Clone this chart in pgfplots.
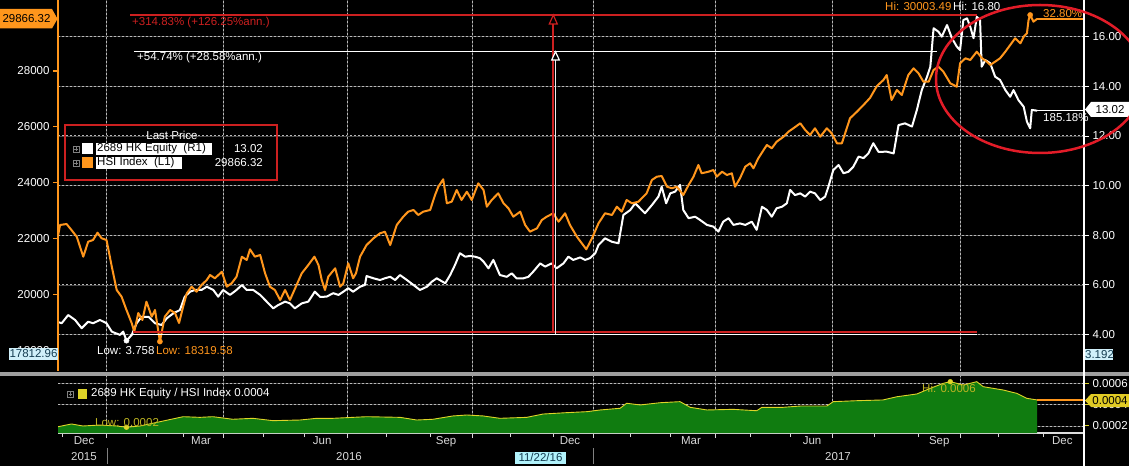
\documentclass[border=0pt]{standalone}
\usepackage{pgfplots}
\usepackage{pgfplotstable}
\pgfplotsset{compat=1.18}
\usepackage{fontspec}
\setmainfont{Liberation Sans}
\definecolor{bbor}{RGB}{255,150,28}
\definecolor{bbred}{RGB}{205,32,32}
\definecolor{ellred}{RGB}{226,28,40}
\definecolor{gridc}{RGB}{185,185,185}
\definecolor{griddim}{RGB}{72,72,72}
\definecolor{bbgreen}{RGB}{16,124,16}
\definecolor{bbyel}{RGB}{222,212,40}
\definecolor{lcyan}{RGB}{208,240,250}
\definecolor{dteal}{RGB}{20,60,80}
\definecolor{lgray}{RGB}{215,215,215}
\newcommand{\fs}{\fontsize{11.5}{13}\selectfont}
\tikzset{gls/.style={draw=griddim, line width=0.9pt},
         gl/.style={draw=gridc, line width=1pt, dash pattern=on 2pt off 2pt}}

% HSI Index (left axis); x = months since 1 Dec 2015
\pgfplotstableread{
m v
-0.17 22096
-0.12 22490
0.04 22526
0.16 22311
0.29 22071
0.45 21356
0.57 21892
0.69 21953
0.80 22214
0.90 22014
1.02 21953
1.15 20998
1.27 20164
1.39 19924
1.51 19449
1.64 18973
1.70 18672
1.80 19341
1.90 19091
2.00 19746
2.13 19209
2.21 19449
2.33 18320
2.45 19209
2.58 19449
2.70 19341
2.80 18983
2.90 19567
2.99 20046
3.11 20282
3.23 20103
3.35 20343
3.48 20522
3.56 20701
3.68 20583
3.85 20819
3.97 20282
4.09 20404
4.21 20640
4.34 21356
4.46 21238
4.54 21620
4.66 21356
4.79 21416
4.91 20762
5.03 20282
5.15 20164
5.28 19806
5.40 20164
5.52 19806
5.64 20200
5.81 20762
5.97 21059
6.12 21356
6.22 21059
6.30 20522
6.38 20164
6.46 20640
6.63 20941
6.75 20282
6.83 20404
6.95 21120
7.07 20583
7.14 20762
7.24 21356
7.40 21774
7.57 22014
7.73 22193
7.85 22250
7.98 21774
8.14 22490
8.30 22787
8.42 22966
8.55 23027
8.67 22848
8.79 22966
8.96 23027
9.08 23563
9.16 23860
9.28 24125
9.37 23266
9.49 23324
9.61 23742
9.73 23384
9.86 23681
9.98 23384
10.14 23982
10.27 23742
10.35 23145
10.47 23384
10.63 23624
10.76 23266
10.88 23087
11.00 22787
11.17 22966
11.29 22490
11.41 22250
11.58 22372
11.70 22669
11.82 22787
11.98 22909
12.11 22608
12.27 22909
12.39 22490
12.56 22071
12.68 21835
12.79 21620
12.93 22014
13.09 22551
13.25 22909
13.42 22848
13.54 23145
13.66 22966
13.78 23384
13.91 23266
14.07 23324
14.27 23624
14.40 24100
14.52 24218
14.64 24243
14.77 23860
14.89 23803
15.01 23860
15.17 23563
15.30 23921
15.42 24218
15.54 24637
15.62 24340
15.79 24397
15.91 24458
15.99 24218
16.12 24397
16.24 24279
16.36 24340
16.44 23860
16.56 24161
16.69 24576
16.81 24697
16.89 24519
17.01 24876
17.14 25173
17.22 25352
17.34 25234
17.46 25470
17.63 25649
17.75 25828
17.87 25950
18.04 26129
18.16 25889
18.28 25710
18.40 25950
18.53 25649
18.69 25950
18.81 25771
18.94 25413
19.06 25413
19.18 25950
19.26 26308
19.43 26544
19.59 26783
19.75 27034
19.92 27463
20.08 27678
20.16 27857
20.28 26962
20.41 27320
20.53 27141
20.69 27857
20.82 28097
20.94 27918
21.06 27617
21.19 27617
21.31 28036
21.43 28154
21.55 27975
21.72 27560
21.88 27438
21.96 28276
22.09 28454
22.21 28394
22.37 28691
22.50 28454
22.62 28333
22.70 28215
22.82 28333
22.94 28454
23.07 28691
23.19 28930
23.31 29170
23.44 28991
23.52 29227
23.60 29349
23.64 29825
23.68 30003.49
23.76 29764
23.85 29866.32
}\hsidata

% 2689 HK Equity (right axis)
\pgfplotstableread{
m v
-0.17 4.51
-0.08 4.46
0.08 4.79
0.25 4.59
0.41 4.26
0.57 4.52
0.69 4.46
0.86 4.59
1.02 4.46
1.15 4.12
1.35 3.99
1.43 4.12
1.51 3.758
1.64 3.99
1.76 4.46
1.88 4.72
2.05 4.72
2.21 4.46
2.37 4.39
2.50 4.66
2.66 4.86
2.82 4.99
2.94 5.53
3.07 5.73
3.19 5.80
3.35 5.80
3.48 5.93
3.64 5.80
3.76 5.53
3.88 5.80
4.05 5.60
4.21 5.80
4.34 6.00
4.46 5.80
4.62 5.80
4.79 5.60
4.95 5.33
5.11 5.06
5.23 5.19
5.40 5.33
5.52 5.26
5.64 5.06
5.81 5.26
5.97 5.33
6.13 5.73
6.26 5.52
6.42 5.53
6.58 5.67
6.71 5.60
6.83 5.73
6.95 5.87
7.07 5.73
7.24 5.93
7.36 6.00
7.40 6.36
7.57 6.27
7.73 6.20
7.85 6.27
7.98 6.33
8.10 6.20
8.22 6.40
8.39 6.20
8.55 6.00
8.71 5.80
8.88 5.93
9.00 6.13
9.12 6.27
9.33 6.07
9.45 6.40
9.57 6.81
9.69 7.28
9.82 7.14
9.94 7.17
10.06 7.14
10.18 7.08
10.27 6.94
10.39 6.67
10.51 7.01
10.67 6.40
10.84 6.33
10.96 6.47
11.08 6.27
11.25 6.27
11.37 6.33
11.49 6.54
11.66 6.87
11.78 6.74
11.94 6.87
12.06 6.67
12.23 6.87
12.35 7.14
12.47 7.01
12.64 7.11
12.76 7.01
12.88 7.08
13.01 7.28
13.09 7.61
13.25 7.88
13.42 7.74
13.58 7.68
13.70 8.82
13.87 9.02
13.99 9.29
14.11 9.09
14.23 8.89
14.40 9.22
14.56 9.56
14.64 9.96
14.75 9.29
14.85 9.69
14.97 9.76
15.09 10.03
15.17 9.02
15.30 8.69
15.46 8.75
15.58 8.62
15.75 8.42
15.91 8.35
16.03 8.15
16.15 8.55
16.28 8.69
16.40 8.42
16.56 8.48
16.69 8.42
16.85 8.55
16.97 8.22
17.10 9.15
17.22 9.02
17.34 8.75
17.46 9.09
17.59 9.15
17.71 9.29
17.79 9.83
17.91 9.62
18.04 9.69
18.16 9.56
18.28 9.76
18.40 9.69
18.53 9.42
18.65 9.56
18.73 9.96
18.85 10.63
18.98 10.83
19.10 10.50
19.22 10.56
19.34 10.76
19.47 11.17
19.59 11.11
19.71 11.30
19.83 11.71
19.96 11.36
20.16 11.37
20.33 11.30
20.45 12.44
20.61 12.51
20.78 12.38
20.90 13.05
21.02 13.85
21.15 14.39
21.23 14.79
21.31 16.34
21.43 16.20
21.51 16.00
21.64 16.47
21.76 15.94
21.88 15.60
21.96 15.46
22.04 16.67
22.13 16.74
22.21 16.40
22.29 15.94
22.37 16.80
22.45 16.67
22.49 14.79
22.58 15.06
22.70 14.93
22.82 14.39
22.94 14.26
23.07 13.85
23.19 13.58
23.27 13.85
23.39 13.45
23.52 13.18
23.60 12.58
23.68 12.31
23.72 13.05
23.85 13.02
}\eqdata

% 2689 HK Equity / HSI Index
\pgfplotstableread{
m v
-0.17 0.000193
0.16 0.000219
0.44 0.000200
0.86 0.000209
1.27 0.000200
1.51 0.000188
1.84 0.000200
2.33 0.000240
2.90 0.000287
3.31 0.000281
3.63 0.000287
4.12 0.000263
4.61 0.000272
5.10 0.000250
5.77 0.000256
6.18 0.000272
6.58 0.000272
7.40 0.000287
8.22 0.000281
8.63 0.000256
9.03 0.000263
9.52 0.000294
9.86 0.000303
10.26 0.000294
10.67 0.000272
11.33 0.000281
11.73 0.000312
12.31 0.000325
12.80 0.000334
13.13 0.000350
13.62 0.000366
13.78 0.000413
14.11 0.000397
14.60 0.000418
15.09 0.000428
15.34 0.000375
15.75 0.000350
16.39 0.000356
16.97 0.000343
17.10 0.000375
17.62 0.000375
18.04 0.000387
18.69 0.000387
18.85 0.000428
19.43 0.000437
20.07 0.000444
20.41 0.000474
20.90 0.000500
21.23 0.000553
21.55 0.000600
21.72 0.000615
22.04 0.000584
22.37 0.000615
22.53 0.000568
23.02 0.000537
23.35 0.000506
23.60 0.000459
23.85 0.000444
}\ratiodata

\pgfplotsset{
  bbbase/.style={
    scale only axis,
    xmin=-0.17, xmax=25.0,
    tick label style={font=\fs},
    /pgf/number format/assume math mode=true,
    tick align=outside,
    major tick length=5pt, minor tick length=4pt,
  }
}

\begin{document}
\begin{tikzpicture}
\fill[black] (0pt,0pt) rectangle (1129pt,466pt);
\useasboundingbox (0pt,0pt) rectangle (1129pt,466pt);

% panel separator
\fill[gray!75] (0pt,90pt) rectangle (1129pt,94pt);

% grid lines (dim solid base, brighter dashes on top), in picture points
\begin{scope}[x=1pt,y=1pt]
\foreach \yy in {131.35,181.0,230.7,280.3,330.0,379.7,429.3,40.0,61.4,82.7}
  {\draw[gls] (58,\yy) -- (1084,\yy); \draw[gl] (58,\yy) -- (1084,\yy);}
\foreach \xx in {106.9,223.1,347.0,472.2,593.2,715.1,832.1,960.1}
  {\draw[gls] (\xx,95) -- (\xx,466); \draw[gl] (\xx,95) -- (\xx,466);
   \draw[gls] (\xx,33) -- (\xx,90); \draw[gl] (\xx,33) -- (\xx,90);}
\end{scope}

% ---------- main panel, right axis: 2689 HK Equity ----------
\begin{axis}[bbbase, at={(58pt,95pt)}, anchor=south west, width=1026pt, height=371pt,
  ymin=2.536, ymax=17.478,
  axis y line*=right, axis x line*=bottom,
  x axis line style={draw=none}, y axis line style={white, line width=1.2pt},
  xtick=\empty,
  ytick={4,6,8,10,12,14,16}, ytick style={white, line width=1pt},
  yticklabel style={text=white, /pgf/number format/.cd, fixed, fixed zerofill, precision=2},
  clip=false]
\addplot[white, line width=2pt, line join=round] table[x=m,y=v]{\eqdata};
\addplot[white, line width=1.5pt] coordinates {(23.85,13.02) (25.0,13.02)};
\addplot[only marks, mark=*, mark size=2.6pt, white] coordinates {(1.51,3.758)};
\end{axis}

% ---------- main panel, left axis: HSI Index ----------
\begin{axis}[bbbase, at={(58pt,95pt)}, anchor=south west, width=1026pt, height=371pt,
  ymin=17266, ymax=30540,
  axis y line*=left, axis x line*=bottom,
  x axis line style={draw=none}, xtick=\empty,
  y axis line style={bbor, line width=1.5pt},
  ytick={18000,20000,22000,24000,26000,28000}, ytick style={bbor, line width=1.2pt},
  yticklabel style={text=white},
  scaled y ticks=false, /pgf/number format/1000 sep={},
  clip=false]
\addplot[bbor, line width=2pt, line join=round] table[x=m,y=v]{\hsidata};
\addplot[bbor, line width=1.5pt] coordinates {(23.85,29866.32) (25.0,29866.32)};
\addplot[only marks, mark=*, mark size=2.6pt, bbor] coordinates {(2.33,18319.58) (23.68,30003.49)};
\end{axis}

% ---------- lower panel: ratio ----------
\begin{axis}[bbbase, at={(58pt,33pt)}, anchor=south west, width=1026pt, height=57pt,
  ymin=0.0001343, ymax=0.0006684,
  axis y line*=right, axis x line*=bottom,
  x axis line style={lgray!85, line width=1.2pt}, y axis line style={white, line width=1.2pt},
  xtick={1.03,3.88,6.92,9.99,12.96,15.95,18.82,21.96},
  minor xtick={-0.05,1.99,2.90,4.86,5.87,7.90,8.96,10.92,11.98,13.87,14.85,16.81,17.79,19.85,20.93,22.90,24.00},
  xticklabels={},
  xtick style={lgray, line width=1pt},
  extra x ticks={0.47,3.34,6.31,9.35,12.39,15.36,18.33,21.45,24.47},
  extra x tick labels={Dec,Mar,Jun,Sep,Dec,Mar,Jun,Sep,Dec},
  extra x tick style={major tick length=0pt, xticklabel style={text=lgray}},
  ytick={0.0002,0.0004,0.0006}, ytick style={bbyel, line width=1pt},
  yticklabel style={text=white, /pgf/number format/.cd, fixed, fixed zerofill, precision=4},
  scaled y ticks=false]
\addplot[fill=bbgreen, draw=none] table[x=m,y=v]{\ratiodata} \closedcycle;
\addplot[bbyel, line width=0.9pt] table[x=m,y=v]{\ratiodata};
\addplot[bbor, line width=1.2pt] coordinates {(23.85,0.000444) (25.0,0.000444)};
\addplot[only marks, mark=*, mark size=2.4pt, bbyel] coordinates {(1.51,0.000188) (21.72,0.000615)};
\end{axis}

\begin{scope}[x=1pt,y=1pt]
% right axis line through the whole height
\draw[white, line width=1.2pt] (1084,0) -- (1084,466);

% ---------- measurement annotations ----------
\draw[bbred, line width=1.3pt] (130,451) -- (977,451);
\draw[white, line width=1.3pt] (134,414.5) -- (937,414.5);
\draw[bbred, line width=1.3pt] (133,134) -- (977,134);
\draw[white, line width=1.3pt] (133,131.5) -- (977,131.5);
\draw[bbred, line width=1.3pt] (553,442) -- (553,134);
\draw[bbred, line width=1.2pt, fill=black] (553.3,451) -- (549.3,442) -- (557.3,442) -- cycle;
\draw[white!85!gray, line width=1.3pt] (555.5,406) -- (555.5,131.5);
\draw[white, line width=1.2pt, fill=black] (555.5,414.3) -- (551.7,406) -- (559.3,406) -- cycle;
\node[anchor=west, text=bbred, font=\fs, inner sep=0] at (132,443) {+314.83\% (+126.25\%ann.)};
\node[anchor=west, text=white, font=\fs, inner sep=0] at (137,408) {+54.74\% (+28.58\%ann.)};

% Hi / Low labels
\node[anchor=west, text=bbor, font=\fs, inner sep=0] at (885,460) {Hi: 30003.49};
\node[anchor=west, text=white, font=\fs, inner sep=0] at (953,460) {Hi: 16.80};
\node[anchor=west, text=white, font=\fs, inner sep=0] at (97,115.5) {Low: 3.758};
\node[anchor=west, text=bbor, font=\fs, inner sep=0] at (156,115.5) {Low: 18319.58};
\node[anchor=west, text=bbor, font=\fs, inner sep=0] at (1043,452.5) {32.80\%};
\node[anchor=west, text=white, font=\fs, inner sep=0] at (1043,348) {185.18\%};

% ---------- value boxes on the axes ----------
\fill[bbor] (0,437.5) -- (52,437.5) -- (57.5,447.2) -- (52,457) -- (0,457) -- cycle;
\node[text=black, font=\fs, inner sep=0] at (26.5,447.2) {29866.32};
\fill[lcyan] (9,106.5) rectangle (58,118.5);
\node[text=dteal, font=\fs, inner sep=0] at (33.5,112.5) {17812.96};
\fill[white] (1085,356.5) -- (1091,364) -- (1129,364) -- (1129,349) -- (1091,349) -- cycle;
\node[text=black, font=\fs, inner sep=0] at (1110,356.5) {13.02};
\fill[lcyan] (1085,106) rectangle (1113,117.5);
\node[text=dteal, font=\fs, inner sep=0] at (1099.5,111.7) {3.192};
\fill[bbyel!90!orange] (1085,65.5) -- (1091,72) -- (1129,72) -- (1129,59) -- (1091,59) -- cycle;
\node[text=black, font=\fs, inner sep=0] at (1110,65.5) {0.0004};

% ---------- main legend ----------
\draw[bbred, line width=2pt] (65,286) rectangle (277,341);
\node[text=white, font=\fs, inner sep=0] at (172,331) {Last Price};
\draw[gray, line width=0.6pt] (73,314) rectangle (79,320);
\draw[gray, line width=0.5pt] (74.4,317) -- (77.6,317) (76,315.4) -- (76,318.6);
\fill[white] (82,312) rectangle (93,322.5);
\fill[white] (96,311) rectangle (212,323);
\node[anchor=west, text=black, font=\fs, inner sep=0] at (97,317) {2689 HK Equity\ \ (R1)};
\node[anchor=east, text=white, font=\fs, inner sep=0] at (263,317) {13.02};
\draw[gray, line width=0.6pt] (73,300) rectangle (79,306);
\draw[gray, line width=0.5pt] (74.4,303) -- (77.6,303) (76,301.4) -- (76,304.6);
\fill[bbor] (82,298) rectangle (93,308.5);
\fill[white] (96,297) rectangle (182,309);
\node[anchor=west, text=black, font=\fs, inner sep=0] at (97,303) {HSI Index\ \ (L1)};
\node[anchor=east, text=white, font=\fs, inner sep=0] at (263,303) {29866.32};

% ---------- lower panel legend and labels ----------
\draw[gray, line width=0.6pt] (67.5,69) rectangle (73.5,75);
\draw[gray, line width=0.5pt] (68.9,72) -- (72.1,72) (70.5,70.4) -- (70.5,73.6);
\fill[bbyel] (77.5,67.5) rectangle (87,77.5);
\node[anchor=west, text=white, font=\fs, inner sep=0] at (91,72) {2689 HK Equity / HSI Index 0.0004};
\node[anchor=west, text=bbyel!85!black, font=\fs, inner sep=0] at (95,43) {Low: 0.0002};
\node[anchor=west, text=bbyel!85!black, font=\fs, inner sep=0] at (922,78) {Hi: 0.0006};

% years and date marker
\node[text=lgray, font=\fs] at (84,9) {2015};
\node[text=lgray, font=\fs] at (349,9) {2016};
\node[text=lgray, font=\fs] at (838,9) {2017};
\draw[gray, line width=0.8pt] (107,2) -- (107,18);
\draw[gray, line width=0.8pt] (593,2) -- (593,18);
\fill[lcyan!85!cyan] (515,2.5) rectangle (566,14.5);
\node[text=dteal, font=\fs, inner sep=0] at (540.5,8.5) {11/22/16};

% red ellipse
\draw[ellred, line width=2.5pt] (1040,387) ellipse [x radius=104, y radius=74];
\end{scope}
\end{tikzpicture}
\end{document}
